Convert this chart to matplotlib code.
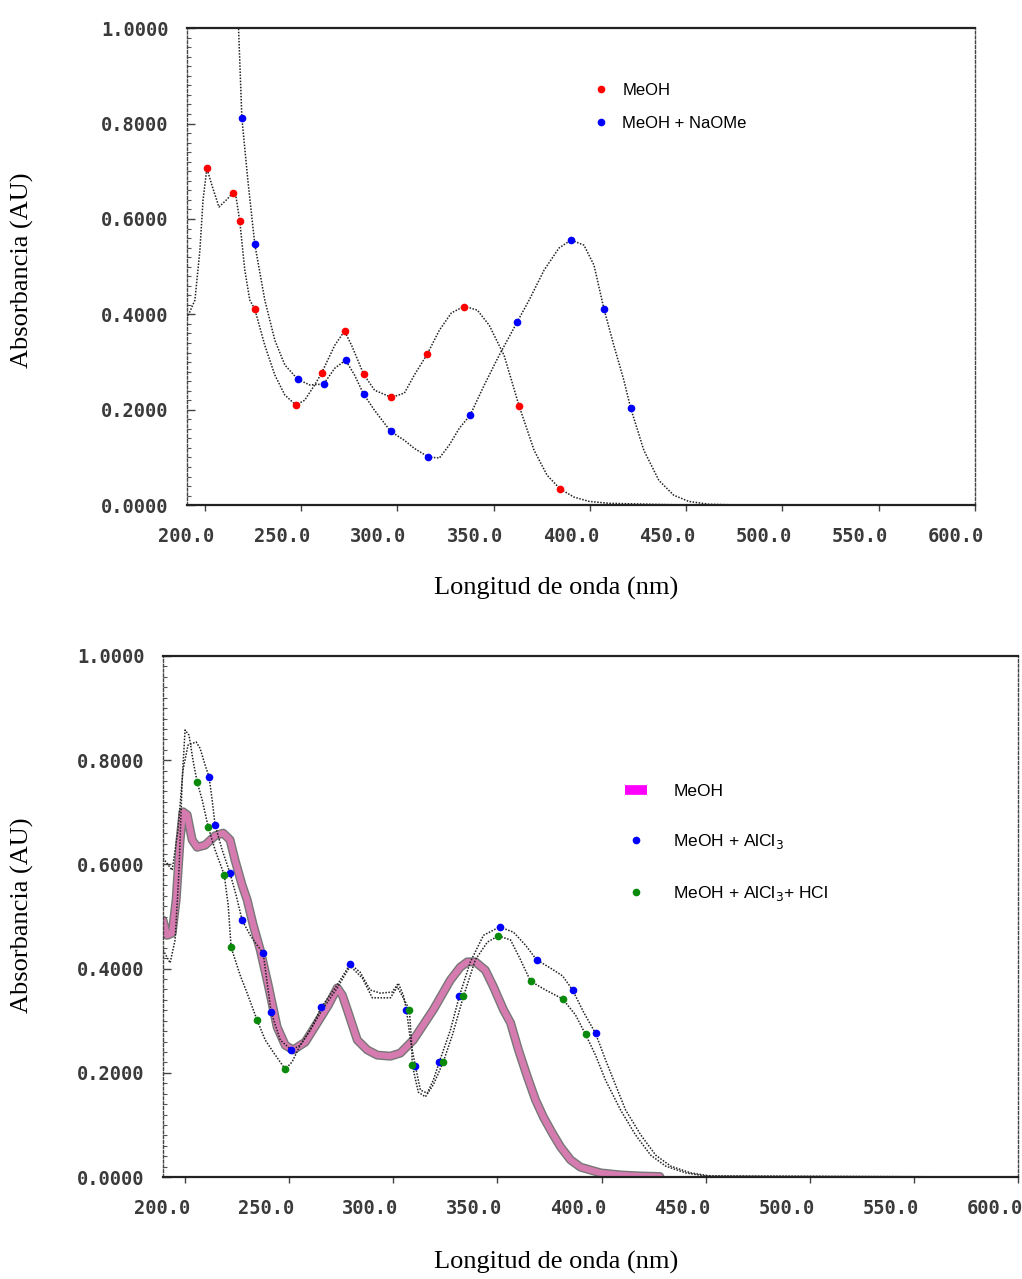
import matplotlib
matplotlib.use("Agg")
import matplotlib.pyplot as plt
import matplotlib.transforms as mtransforms
from matplotlib.lines import Line2D
import numpy as np

# ---- top panel: MeOH vs MeOH + NaOMe ----
top_meoh_nm = [190.7, 194.8, 197.4, 199.0, 201.0, 203.6, 207.3, 210.9, 214.5, 216.1, 218.1, 220.7,
               223.3, 225.9, 231.1, 236.3, 241.5, 247.2, 251.8, 257.0, 260.6, 267.4, 272.5, 276.2,
               282.4, 288.1, 296.9, 303.6, 308.8, 315.5, 321.8, 328.0, 334.7, 341.5, 347.7, 355.4,
               363.2, 371.0, 377.7, 384.5, 391.7, 399.5, 409.8, 430.6, 456.5, 600.0]
top_meoh_abs = [0.392, 0.430, 0.535, 0.639, 0.706, 0.671, 0.625, 0.639, 0.654, 0.648, 0.595, 0.493,
                0.430, 0.411, 0.335, 0.273, 0.231, 0.210, 0.220, 0.252, 0.277, 0.335, 0.365, 0.335,
                0.275, 0.241, 0.226, 0.235, 0.273, 0.317, 0.367, 0.403, 0.417, 0.409, 0.377, 0.314,
                0.208, 0.115, 0.063, 0.034, 0.017, 0.008, 0.004, 0.002, 0.000, 0.000]
top_meoh_mk_nm = [201.0, 214.5, 218.1, 225.9, 247.2, 260.6, 272.5, 282.4, 296.9, 315.5, 334.7, 363.2, 384.5]
top_meoh_mk_abs = [0.706, 0.654, 0.595, 0.411, 0.210, 0.277, 0.365, 0.275, 0.226, 0.317, 0.415, 0.207, 0.034]

top_naome_nm = [217.0, 219.2, 222.3, 225.9, 231.1, 236.3, 241.5, 248.2, 254.4, 261.7, 267.4, 273.1,
                277.7, 282.4, 288.1, 296.4, 303.6, 308.8, 316.1, 321.8, 326.9, 332.1, 337.8, 345.1,
                352.8, 362.2, 368.4, 376.2, 383.9, 390.2, 396.9, 402.1, 407.3, 412.4, 417.6, 421.2,
                428.0, 435.8, 443.5, 451.3, 461.7, 482.4, 600.0]
top_naome_abs = [1.050, 0.811, 0.681, 0.547, 0.430, 0.346, 0.294, 0.264, 0.252, 0.254, 0.287, 0.304,
                 0.273, 0.233, 0.199, 0.155, 0.136, 0.119, 0.101, 0.099, 0.126, 0.161, 0.189, 0.252,
                 0.314, 0.384, 0.430, 0.493, 0.539, 0.556, 0.545, 0.503, 0.411, 0.335, 0.262, 0.203,
                 0.115, 0.052, 0.021, 0.008, 0.002, 0.000, 0.000]
top_naome_mk_nm = [219.2, 225.9, 248.2, 261.7, 273.1, 282.4, 296.4, 316.1, 337.8, 362.2, 390.2, 407.3, 421.2]
top_naome_mk_abs = [0.811, 0.547, 0.264, 0.254, 0.304, 0.233, 0.155, 0.101, 0.189, 0.384, 0.556, 0.411, 0.203]

# ---- bottom panel: MeOH, MeOH + AlCl3, MeOH + AlCl3 + HCl ----
bot_meoh_nm = [189.4, 191.3, 193.8, 195.7, 197.6, 199.0, 201.0, 203.4, 205.8, 209.6, 214.4, 218.3,
               221.6, 224.0, 227.4, 229.8, 232.7, 236.1, 239.9, 244.2, 248.1, 251.9, 257.7, 263.5,
               268.8, 273.1, 275.5, 277.9, 282.7, 287.5, 292.3, 298.6, 303.4, 309.6, 314.4, 319.2,
               327.4, 332.2, 335.6, 339.4, 344.2, 348.1, 352.9, 356.3, 360.1, 364.4, 368.3, 372.1,
               376.4, 380.3, 385.1, 389.9, 399.5, 409.1, 418.8, 428.0]
bot_meoh_abs = [0.493, 0.464, 0.468, 0.532, 0.647, 0.701, 0.695, 0.647, 0.633, 0.637, 0.655, 0.660,
                0.647, 0.608, 0.560, 0.532, 0.484, 0.436, 0.369, 0.288, 0.253, 0.244, 0.259, 0.296,
                0.330, 0.363, 0.349, 0.321, 0.263, 0.244, 0.234, 0.232, 0.238, 0.263, 0.292, 0.321,
                0.378, 0.403, 0.413, 0.413, 0.397, 0.365, 0.321, 0.296, 0.244, 0.192, 0.148, 0.115,
                0.084, 0.058, 0.033, 0.019, 0.008, 0.004, 0.002, 0.001]

bot_alcl3_nm = [189.4, 193.8, 196.6, 199.0, 201.4, 205.3, 207.2, 209.6, 211.5, 213.0, 214.4, 217.8,
                221.6, 224.5, 227.4, 231.3, 234.6, 237.5, 241.3, 245.7, 251.0, 255.3, 260.1, 265.4,
                273.1, 279.3, 284.1, 288.9, 293.8, 299.5, 302.4, 304.8, 306.3, 308.2, 310.6, 313.0,
                316.3, 319.2, 322.1, 327.4, 331.7, 337.0, 343.3, 351.0, 357.7, 363.5, 368.8, 375.5,
                381.3, 386.1, 391.3, 397.1, 401.9, 406.7, 411.5, 418.8, 426.0, 433.2, 442.8, 452.4, 600.0]
bot_alcl3_abs = [0.612, 0.589, 0.666, 0.781, 0.829, 0.835, 0.823, 0.791, 0.768, 0.724, 0.676, 0.628,
                 0.583, 0.541, 0.493, 0.464, 0.445, 0.430, 0.317, 0.263, 0.244, 0.253, 0.282, 0.326,
                 0.369, 0.409, 0.393, 0.359, 0.353, 0.355, 0.372, 0.349, 0.321, 0.263, 0.213, 0.167,
                 0.161, 0.186, 0.221, 0.282, 0.347, 0.413, 0.464, 0.480, 0.470, 0.445, 0.417, 0.401,
                 0.386, 0.359, 0.317, 0.276, 0.225, 0.177, 0.129, 0.081, 0.042, 0.021, 0.008, 0.002, 0.000]
bot_alcl3_mk_nm = [211.5, 214.4, 221.6, 227.4, 237.5, 241.3, 251.0, 265.4, 279.3, 306.3, 310.6,
                   322.1, 331.7, 351.0, 368.8, 386.1, 397.1]
bot_alcl3_mk_abs = [0.768, 0.676, 0.583, 0.493, 0.430, 0.317, 0.244, 0.326, 0.409, 0.321, 0.213,
                    0.221, 0.347, 0.480, 0.417, 0.359, 0.276]

bot_hcl_nm = [189.4, 192.8, 195.2, 197.1, 198.6, 200.0, 201.9, 203.8, 205.8, 208.2, 211.1, 214.4,
              218.8, 220.7, 222.1, 226.4, 229.8, 234.6, 238.5, 242.3, 248.1, 251.4, 255.3, 260.1,
              265.9, 273.1, 279.3, 285.1, 289.9, 298.6, 301.9, 305.3, 307.7, 308.7, 309.1, 312.0,
              315.4, 319.2, 324.0, 328.4, 333.7, 339.4, 345.2, 350.5, 356.3, 361.1, 365.9, 373.1,
              381.3, 387.5, 392.3, 397.1, 401.9, 409.1, 416.3, 423.6, 430.8, 440.4, 450.0, 600.0]
bot_hcl_abs = [0.436, 0.411, 0.455, 0.589, 0.762, 0.858, 0.848, 0.800, 0.758, 0.724, 0.672, 0.628,
               0.580, 0.522, 0.441, 0.388, 0.353, 0.301, 0.263, 0.240, 0.207, 0.221, 0.253, 0.282,
               0.321, 0.363, 0.405, 0.382, 0.344, 0.344, 0.365, 0.340, 0.321, 0.263, 0.215, 0.163,
               0.154, 0.177, 0.221, 0.273, 0.347, 0.417, 0.451, 0.463, 0.455, 0.417, 0.376, 0.359,
               0.342, 0.311, 0.274, 0.234, 0.186, 0.129, 0.081, 0.042, 0.021, 0.008, 0.002, 0.000]
bot_hcl_mk_nm = [205.8, 211.1, 218.8, 222.1, 234.6, 248.1, 307.7, 309.1, 324.0, 333.7, 350.5,
                 365.9, 381.3, 392.3]
bot_hcl_mk_abs = [0.758, 0.672, 0.580, 0.441, 0.301, 0.207, 0.321, 0.215, 0.221, 0.347, 0.463,
                  0.376, 0.342, 0.274]

x_ticks = [200, 250, 300, 350, 400, 450, 500, 550, 600]
y_ticks = [0.0, 0.2, 0.4, 0.6, 0.8, 1.0]

CURVE = dict(color="#222222", lw=1.1, ls=(0, (1, 1)))
TICKFONT = dict(family="DejaVu Sans Mono", size=13.5, weight="bold", color="#3a3a3a")


def style_axes(ax, xlim, label_dx):
    ax.set_xlim(*xlim)
    ax.set_ylim(0, 1.0)
    ax.set_xticks(x_ticks)
    ax.set_xticklabels([f"{v:.1f}" for v in x_ticks], fontdict=TICKFONT)
    ax.set_yticks(y_ticks)
    ax.set_yticklabels([f"{v:.4f}" for v in y_ticks], fontdict=TICKFONT)
    ax.set_yticks(np.arange(0, 1.0001, 0.02), minor=True)
    ax.tick_params(axis="x", direction="out", length=4, width=1, color="#444444", pad=12)
    ax.tick_params(axis="y", which="major", direction="in", length=6, width=1, color="#444444", pad=13.5)
    ax.tick_params(axis="y", which="minor", direction="in", length=3, width=0.8, color="#555555")
    for side in ["top", "bottom"]:
        ax.spines[side].set_linewidth(1.6)
        ax.spines[side].set_color("#222222")
    for side in ["left", "right"]:
        ax.spines[side].set_linestyle((0, (2, 1.5)))
        ax.spines[side].set_linewidth(1.0)
        ax.spines[side].set_color("#444444")
    # tick labels in the original sit to the left of their ticks
    offset = mtransforms.ScaledTranslation(label_dx / 100, 0, ax.figure.dpi_scale_trans)
    for lab in ax.get_xticklabels():
        lab.set_transform(lab.get_transform() + offset)


fig = plt.figure(figsize=(10.22, 12.79), dpi=100)
ax1 = fig.add_axes([0.183, 0.605, 0.771, 0.373])
ax2 = fig.add_axes([0.1595, 0.0797, 0.8366, 0.4074])

# top panel
ax1.plot(top_meoh_nm, top_meoh_abs, **CURVE)
ax1.plot(top_naome_nm, top_naome_abs, **CURVE)
ax1.plot(top_meoh_mk_nm, top_meoh_mk_abs, ls="none", marker="o", ms=4.5, color="#ff0000", label="MeOH")
ax1.plot(top_naome_mk_nm, top_naome_mk_abs, ls="none", marker="o", ms=4.5, color="#0000ff",
         label="MeOH + NaOMe")
style_axes(ax1, (190.7, 600.0), -19)
ax1.legend(loc="upper left", bbox_to_anchor=(0.515, 0.885), frameon=False, borderpad=0, borderaxespad=0,
           handlelength=1.0, handletextpad=0.76, labelspacing=1.08,
           prop={"family": "Liberation Sans", "size": 12})

# bottom panel
ax2.plot(bot_meoh_nm, bot_meoh_abs, color="#555555", lw=6.5, solid_capstyle="round", alpha=0.8)
ax2.plot(bot_meoh_nm, bot_meoh_abs, color="#d67bb0", lw=4.5, solid_capstyle="round")
ax2.plot(bot_alcl3_nm, bot_alcl3_abs, **CURVE)
ax2.plot(bot_hcl_nm, bot_hcl_abs, **CURVE)
ax2.plot(bot_alcl3_mk_nm, bot_alcl3_mk_abs, ls="none", marker="o", ms=4.5, color="#0000ff")
ax2.plot(bot_hcl_mk_nm, bot_hcl_mk_abs, ls="none", marker="o", ms=4.5, color="#0a8a0a")
style_axes(ax2, (189.4, 600.0), -23)
handles = [
    Line2D([], [], color="#ff00ff", lw=7, solid_capstyle="butt"),
    Line2D([], [], ls="none", marker="o", ms=4.5, color="#0000ff"),
    Line2D([], [], ls="none", marker="o", ms=4.5, color="#0a8a0a"),
]
labels = ["MeOH", "MeOH + AlCl$_3$", "MeOH + AlCl$_3$+ HCl"]
ax2.legend(handles, labels, loc="upper left", bbox_to_anchor=(0.540, 0.754), frameon=False, borderpad=0,
           borderaxespad=0, handlelength=1.3, handletextpad=1.5, labelspacing=1.9,
           prop={"family": "Liberation Sans", "size": 12.5})

# axis titles
LABELFONT = dict(family="Liberation Serif", size=19)
for ycen_px, ylab_px in [(270, 588), (915, 1262)]:
    fig.text(22 / 1022, 1 - ycen_px / 1279, "Absorbancia (AU)", rotation=90, ha="center", va="center", **LABELFONT)
    fig.text(556 / 1022, 1 - ylab_px / 1279, "Longitud de onda (nm)", ha="center", va="center", **LABELFONT)

fig.savefig("out.png", dpi=100, facecolor="white")
